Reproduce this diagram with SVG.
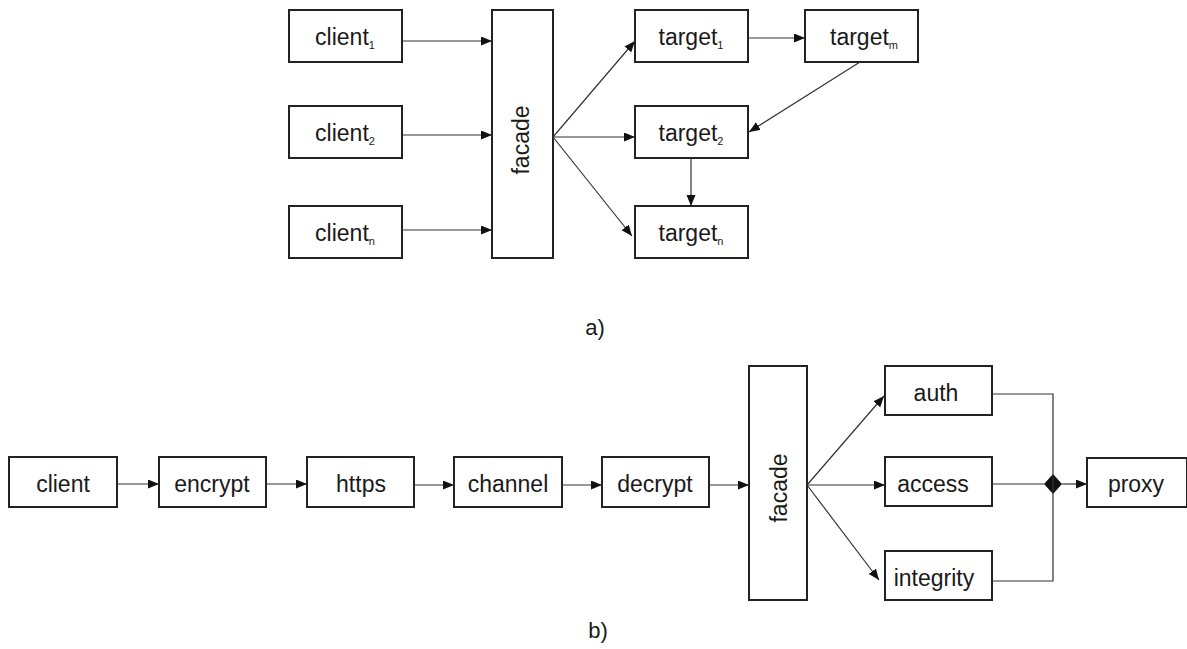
<svg xmlns="http://www.w3.org/2000/svg" width="1187" height="649" viewBox="0 0 1187 649">
  <style>
    .box { fill: #fff; stroke: #222; stroke-width: 2; }
    .lbl { font-family: "Liberation Sans", Arial, sans-serif; font-size: 23px; fill: #1a1a1a; text-anchor: middle; }
    .sub { font-size: 11px; }
    .cap { font-family: "Liberation Sans", Arial, sans-serif; font-size: 22px; fill: #1a1a1a; text-anchor: middle; }
    .edge { fill: none; stroke: #333; stroke-width: 1.2; }
    .arr { marker-end: url(#head); }
  </style>
  <defs>
    <marker id="head" markerUnits="userSpaceOnUse" markerWidth="12" markerHeight="10" refX="11" refY="4.5" orient="auto">
      <path d="M0,0 L11,4.5 L0,9 z" fill="#111"/>
    </marker>
  </defs>
  <rect width="1187" height="649" fill="#fff"/>

  <!-- part a: clients, facade, targets -->
  <g id="client1"><rect class="box" x="289" y="10" width="113" height="52"/><text class="lbl" x="345" y="45">client<tspan class="sub" dy="4">1</tspan></text></g>
  <g id="client2"><rect class="box" x="289" y="106" width="113" height="52"/><text class="lbl" x="345" y="141">client<tspan class="sub" dy="4">2</tspan></text></g>
  <g id="clientn"><rect class="box" x="289" y="206" width="113" height="52"/><text class="lbl" x="345" y="241">client<tspan class="sub" dy="4">n</tspan></text></g>
  <g id="facade-a"><rect class="box" x="492" y="10" width="61" height="248"/><text class="lbl" transform="translate(521,140) rotate(-90)" dominant-baseline="central">facade</text></g>
  <g id="target1"><rect class="box" x="635" y="10" width="113" height="52"/><text class="lbl" x="691" y="45">target<tspan class="sub" dy="4">1</tspan></text></g>
  <g id="targetm"><rect class="box" x="805" y="10" width="113" height="52"/><text class="lbl" x="864" y="45">target<tspan class="sub" dy="4">m</tspan></text></g>
  <g id="target2"><rect class="box" x="635" y="106" width="113" height="52"/><text class="lbl" x="691" y="141">target<tspan class="sub" dy="4">2</tspan></text></g>
  <g id="targetn"><rect class="box" x="635" y="206" width="113" height="52"/><text class="lbl" x="691" y="241">target<tspan class="sub" dy="4">n</tspan></text></g>
  <text class="cap" x="595" y="335">a)</text>

  <!-- part b: pipeline -->
  <g id="client"><rect class="box" x="9" y="457" width="108" height="50"/><text class="lbl" x="63" y="492">client</text></g>
  <g id="encrypt"><rect class="box" x="159" y="457" width="107" height="50"/><text class="lbl" x="212" y="492">encrypt</text></g>
  <g id="https"><rect class="box" x="307" y="457" width="107" height="50"/><text class="lbl" x="361" y="492">https</text></g>
  <g id="channel"><rect class="box" x="454" y="457" width="108" height="50"/><text class="lbl" x="508" y="492">channel</text></g>
  <g id="decrypt"><rect class="box" x="602" y="457" width="107" height="50"/><text class="lbl" x="655" y="492">decrypt</text></g>
  <g id="facade-b"><rect class="box" x="749" y="366" width="58" height="234"/><text class="lbl" transform="translate(779,488) rotate(-90)" dominant-baseline="central">facade</text></g>
  <g id="auth"><rect class="box" x="885" y="366" width="107" height="49"/><text class="lbl" x="936" y="401">auth</text></g>
  <g id="access"><rect class="box" x="885" y="457" width="107" height="49"/><text class="lbl" x="933" y="492">access</text></g>
  <g id="integrity"><rect class="box" x="885" y="551" width="107" height="49"/><text class="lbl" x="934" y="586">integrity</text></g>
  <g id="proxy"><rect class="box" x="1087" y="458" width="100" height="49"/><text class="lbl" x="1136" y="492">proxy</text></g>
  <g id="join"><path d="M1053,474 L1062,484 L1053,494 L1044,484 z" fill="#111"/></g>
  <text class="cap" x="598" y="638">b)</text>

  <g id="connectors">
    <line class="edge arr" x1="402" y1="41" x2="492" y2="41"/>
    <line class="edge arr" x1="402" y1="135" x2="492" y2="135"/>
    <line class="edge arr" x1="402" y1="230" x2="492" y2="230"/>
    <line class="edge arr" x1="553" y1="137" x2="635" y2="41"/>
    <line class="edge arr" x1="553" y1="137" x2="635" y2="137"/>
    <line class="edge arr" x1="553" y1="137" x2="632" y2="236"/>
    <line class="edge arr" x1="748" y1="38" x2="805" y2="38"/>
    <line class="edge arr" x1="860" y1="62" x2="749" y2="132"/>
    <line class="edge arr" x1="691" y1="158" x2="691" y2="206"/>

    <line class="edge arr" x1="117" y1="484" x2="159" y2="484"/>
    <line class="edge arr" x1="266" y1="484" x2="307" y2="484"/>
    <line class="edge arr" x1="414" y1="485" x2="454" y2="485"/>
    <line class="edge arr" x1="562" y1="485" x2="602" y2="485"/>
    <line class="edge arr" x1="709" y1="485" x2="749" y2="485"/>
    <line class="edge arr" x1="807" y1="485" x2="884" y2="396"/>
    <line class="edge arr" x1="807" y1="485" x2="885" y2="485"/>
    <line class="edge arr" x1="807" y1="485" x2="879" y2="580"/>
    <polyline class="edge" points="992,394 1053,394 1053,581 992,581"/>
    <line class="edge" x1="992" y1="484" x2="1044" y2="484"/>
    <line class="edge arr" x1="1062" y1="484" x2="1087" y2="484"/>
  </g>
</svg>
